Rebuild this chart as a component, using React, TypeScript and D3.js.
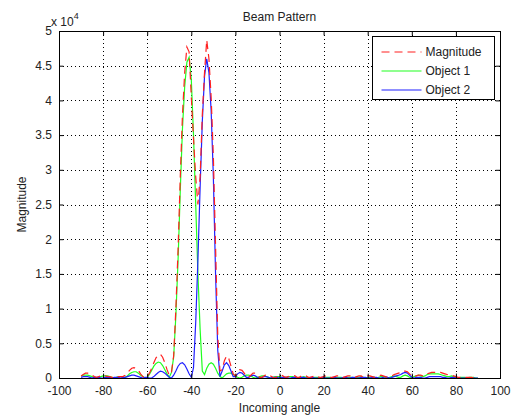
import { useEffect, useRef } from 'react';
import * as d3 from 'd3';

const width = 528;
const height = 419;
const margin = { top: 31, right: 28, bottom: 41, left: 59 };
const font = '"Liberation Sans", Arial, Helvetica, sans-serif';

// incoming angle in degrees, one sample per degree
const angles = d3.range(-90, 91);

// all magnitudes in units of 1e4
const magnitude = [
    0.03, 0.05, 0.07, 0.07, 0.06, 0.04, 0.02, 0.01, 0.02, 0.03,
    0.03, 0.03, 0.02, 0.02, 0.01, 0.01, 0.02, 0.02, 0.02, 0.02,
    0.04, 0.07, 0.11, 0.14, 0.15, 0.14, 0.11, 0.06, 0.02, 0.0,
    0.02, 0.07, 0.14, 0.22, 0.29, 0.33, 0.34, 0.3, 0.22, 0.12,
    0.04, 0.08, 0.32, 1.0, 1.85, 2.9, 3.8, 4.4, 4.77, 4.7,
    4.05, 3.45, 2.9, 2.5, 2.9, 3.8, 4.4, 4.87, 4.6, 4.05,
    3.2, 1.9, 0.6, 0.1, 0.12, 0.25, 0.32, 0.28, 0.17, 0.06,
    0.03, 0.08, 0.12, 0.11, 0.07, 0.02, 0.01, 0.04, 0.07, 0.07,
    0.04, 0.01, 0.01, 0.03, 0.05, 0.05, 0.03, 0.01, 0.0, 0.02,
    0.04, 0.04, 0.02, 0.01, 0.02, 0.03, 0.04, 0.03, 0.01, 0.01,
    0.03, 0.04, 0.03, 0.01, 0.01, 0.02, 0.03, 0.03, 0.01, 0.01,
    0.02, 0.03, 0.03, 0.01, 0.01, 0.02, 0.03, 0.03, 0.01, 0.01,
    0.02, 0.03, 0.03, 0.01, 0.01, 0.02, 0.03, 0.03, 0.01, 0.02,
    0.03, 0.03, 0.02, 0.01, 0.02, 0.03, 0.04, 0.03, 0.02, 0.01,
    0.02, 0.03, 0.05, 0.06, 0.07, 0.08, 0.1, 0.1, 0.09, 0.06,
    0.03, 0.02, 0.03, 0.04, 0.04, 0.03, 0.04, 0.06, 0.07, 0.08,
    0.08, 0.08, 0.08, 0.08, 0.07, 0.06, 0.05, 0.04, 0.04, 0.03,
    0.02, 0.01, 0.01, 0.01, 0.01, 0.01, 0.01, 0.01, 0.0, 0.0,
    0.0
];

const object1 = [
    0.03, 0.04, 0.04, 0.04, 0.03, 0.02, 0.01, 0.0, 0.01, 0.02,
    0.03, 0.03, 0.03, 0.02, 0.01, 0.0, 0.01, 0.02, 0.02, 0.01,
    0.01, 0.03, 0.06, 0.08, 0.09, 0.09, 0.07, 0.04, 0.02, 0.0,
    0.01, 0.05, 0.11, 0.17, 0.21, 0.23, 0.22, 0.18, 0.12, 0.06,
    0.01, 0.08, 0.3, 0.9, 1.7, 2.7, 3.6, 4.2, 4.55, 4.62,
    4.3, 3.5, 2.5, 1.5, 0.7, 0.1, 0.05, 0.14, 0.2, 0.22,
    0.2, 0.14, 0.07, 0.02, 0.0, 0.03, 0.06, 0.07, 0.07, 0.05,
    0.03, 0.01, 0.0, 0.01, 0.03, 0.04, 0.04, 0.03, 0.01, 0.0,
    0.01, 0.02, 0.03, 0.03, 0.02, 0.01, 0.0, 0.01, 0.02, 0.02,
    0.02, 0.01, 0.0, 0.01, 0.02, 0.02, 0.02, 0.01, 0.0, 0.01,
    0.01, 0.02, 0.01, 0.01, 0.0, 0.01, 0.01, 0.01, 0.01, 0.0,
    0.0, 0.01, 0.01, 0.01, 0.0, 0.0, 0.01, 0.01, 0.01, 0.0,
    0.0, 0.01, 0.01, 0.01, 0.0, 0.01, 0.01, 0.02, 0.01, 0.0,
    0.01, 0.01, 0.02, 0.01, 0.0, 0.01, 0.02, 0.02, 0.01, 0.0,
    0.01, 0.02, 0.03, 0.02, 0.01, 0.01, 0.03, 0.04, 0.03, 0.01,
    0.0, 0.02, 0.03, 0.04, 0.03, 0.02, 0.03, 0.05, 0.06, 0.06,
    0.06, 0.06, 0.06, 0.05, 0.04, 0.03, 0.02, 0.02, 0.03, 0.02,
    0.01, 0.0, 0.01, 0.01, 0.01, 0.0, 0.01, 0.01, 0.01, 0.0,
    0.0
];

const object2 = [
    0.01, 0.02, 0.02, 0.02, 0.01, 0.0, 0.01, 0.01, 0.01, 0.0,
    0.0, 0.01, 0.01, 0.01, 0.0, 0.01, 0.01, 0.01, 0.0, 0.01,
    0.01, 0.02, 0.03, 0.04, 0.04, 0.03, 0.02, 0.01, 0.0, 0.01,
    0.01, 0.0, 0.0, 0.02, 0.05, 0.08, 0.1, 0.09, 0.07, 0.04,
    0.01, 0.0, 0.04, 0.1, 0.17, 0.21, 0.22, 0.19, 0.13, 0.06,
    0.01, 0.15, 0.8, 1.7, 2.75, 3.7, 4.35, 4.6, 4.4, 3.85,
    2.9, 1.5, 0.4, 0.02, 0.1, 0.19, 0.22, 0.18, 0.1, 0.02,
    0.02, 0.06, 0.08, 0.07, 0.04, 0.01, 0.01, 0.03, 0.04, 0.03,
    0.01, 0.0, 0.01, 0.02, 0.02, 0.01, 0.0, 0.01, 0.01, 0.01,
    0.0, 0.01, 0.01, 0.01, 0.0, 0.0, 0.01, 0.01, 0.0, 0.0,
    0.01, 0.01, 0.0, 0.0, 0.01, 0.01, 0.0, 0.0, 0.0, 0.01,
    0.01, 0.0, 0.0, 0.0, 0.01, 0.01, 0.0, 0.0, 0.0, 0.01,
    0.01, 0.0, 0.0, 0.01, 0.01, 0.0, 0.0, 0.01, 0.01, 0.01,
    0.0, 0.0, 0.01, 0.01, 0.01, 0.0, 0.0, 0.01, 0.02, 0.01,
    0.0, 0.01, 0.02, 0.03, 0.04, 0.05, 0.07, 0.08, 0.07, 0.04,
    0.01, 0.0, 0.01, 0.01, 0.01, 0.0, 0.0, 0.01, 0.02, 0.02,
    0.02, 0.02, 0.02, 0.02, 0.01, 0.01, 0.0, 0.0, 0.01, 0.01,
    0.0, 0.0, 0.0, 0.0, 0.0, 0.0, 0.0, 0.0, 0.0, 0.0,
    0.0
];

const xTicks = [-100, -80, -60, -40, -20, 0, 20, 40, 60, 80, 100];
const yTicks = [0, 0.5, 1, 1.5, 2, 2.5, 3, 3.5, 4, 4.5, 5];

const series = [
    { name: 'Magnitude', values: magnitude, color: '#ff2020', dash: '8,5' },
    { name: 'Object 1', values: object1, color: '#20ff20', dash: null },
    { name: 'Object 2', values: object2, color: '#2020ff', dash: null }
];

export default function App() {
    const ref = useRef<SVGSVGElement | null>(null);

    useEffect(() => {
        const svg = d3.select(ref.current);
        svg.selectAll('*').remove();

        const w = width - margin.left - margin.right;
        const h = height - margin.top - margin.bottom;

        const x = d3.scaleLinear().domain([-100, 100]).range([0, w]);
        const y = d3.scaleLinear().domain([0, 5]).range([h, 0]);

        const g = svg.append('g').attr('transform', `translate(${margin.left},${margin.top})`);

        // white axes background
        g.append('rect').attr('width', w).attr('height', h).attr('fill', '#fff');

        // dotted grid
        const grid = g.append('g').attr('stroke', '#000').attr('stroke-dasharray', '1,3').attr('stroke-width', 1);
        grid.selectAll('.gx')
            .data(xTicks.slice(1, -1))
            .join('line')
            .attr('x1', (d) => Math.round(x(d)) + 0.5)
            .attr('x2', (d) => Math.round(x(d)) + 0.5)
            .attr('y1', 0)
            .attr('y2', h);
        grid.selectAll('.gy')
            .data(yTicks.slice(1, -1))
            .join('line')
            .attr('y1', (d) => Math.round(y(d)) + 0.5)
            .attr('y2', (d) => Math.round(y(d)) + 0.5)
            .attr('x1', 0)
            .attr('x2', w);

        // series lines
        const line = d3
            .line<number>()
            .x((_d, i) => x(angles[i]))
            .y((d) => y(d));

        const drawOrder = [series[1], series[2], series[0]];
        drawOrder.forEach((s) => {
            g.append('path')
                .datum(s.values)
                .attr('d', line)
                .attr('fill', 'none')
                .attr('stroke', s.color)
                .attr('stroke-width', 1.2)
                .attr('stroke-dasharray', s.dash);
        });

        // axes (ticks pointing inward on all four sides)
        const tick = 4.4;
        const styleAxis = (sel) => {
            sel.select('.domain').remove();
            sel.selectAll('text').attr('fill', '#222').style('font-family', font).style('font-size', '12px');
            sel.selectAll('line').attr('stroke', '#000');
        };

        g.append('g')
            .attr('transform', `translate(0,${h})`)
            .call(d3.axisBottom(x).tickValues(xTicks).tickSize(-tick).tickPadding(8).tickFormat((d) => String(d)))
            .call(styleAxis);
        g.append('g')
            .call(d3.axisTop(x).tickValues(xTicks).tickSize(-tick).tickFormat(() => ''))
            .call(styleAxis);
        g.append('g')
            .call(d3.axisLeft(y).tickValues(yTicks).tickSize(-tick).tickPadding(7).tickFormat((d) => String(d)))
            .call(styleAxis);
        g.append('g')
            .attr('transform', `translate(${w},0)`)
            .call(d3.axisRight(y).tickValues(yTicks).tickSize(-tick).tickFormat(() => ''))
            .call(styleAxis);

        // box
        g.append('rect')
            .attr('width', w)
            .attr('height', h)
            .attr('fill', 'none')
            .attr('stroke', '#000')
            .attr('stroke-width', 1)
            .attr('shape-rendering', 'crispEdges');

        // exponent label
        const exp = svg.append('text')
            .attr('x', margin.left - 8)
            .attr('y', margin.top - 5)
            .attr('fill', '#222')
            .style('font-family', font)
            .style('font-size', '12px');
        exp.append('tspan').text('x 10');
        exp.append('tspan').attr('dy', -7).style('font-size', '9px').text('4');

        // title + axis labels
        svg.append('text')
            .attr('x', margin.left + w / 2)
            .attr('y', 21)
            .attr('text-anchor', 'middle')
            .attr('fill', '#222')
            .style('font-family', font)
            .style('font-size', '12px')
            .text('Beam Pattern');
        svg.append('text')
            .attr('x', margin.left + w / 2)
            .attr('y', 412)
            .attr('text-anchor', 'middle')
            .attr('fill', '#222')
            .style('font-family', font)
            .style('font-size', '12px')
            .text('Incoming angle');
        svg.append('text')
            .attr('transform', `translate(26,${margin.top + h / 2}) rotate(-90)`)
            .attr('text-anchor', 'middle')
            .attr('fill', '#222')
            .style('font-family', font)
            .style('font-size', '12px')
            .text('Magnitude');

        // legend
        const lg = svg.append('g').attr('transform', 'translate(372.5,36.5)');
        lg.append('rect')
            .attr('width', 122)
            .attr('height', 63)
            .attr('fill', '#fff')
            .attr('stroke', '#000')
            .attr('stroke-width', 1);
        series.forEach((s, i) => {
            const cy = 15.5 + i * 19;
            lg.append('line')
                .attr('x1', 9)
                .attr('x2', 49)
                .attr('y1', cy)
                .attr('y2', cy)
                .attr('stroke', s.color)
                .attr('stroke-width', 1.2)
                .attr('stroke-dasharray', s.dash);
            lg.append('text')
                .attr('x', 53)
                .attr('y', cy)
                .attr('dy', '0.35em')
                .attr('fill', '#222')
                .style('font-family', font)
                .style('font-size', '12px')
                .text(s.name);
        });
    }, []);

    return (
        <svg
            ref={ref}
            width={width}
            height={height}
            style={{ position: 'absolute', left: 0, top: 0, background: '#fff' }}
        />
    );
}
